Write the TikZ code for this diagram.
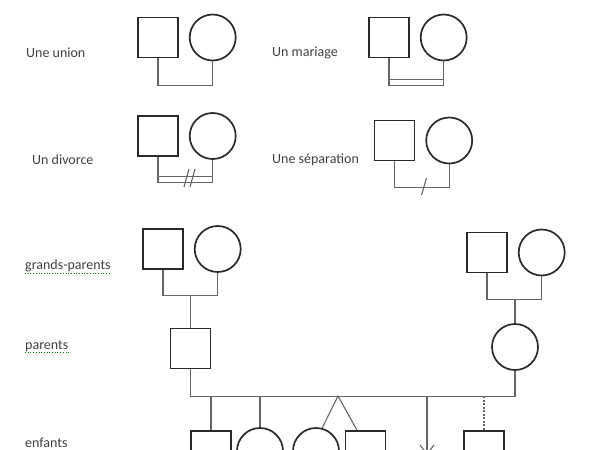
\documentclass[tikz,border=0pt]{standalone}
\usepackage{fontspec}
\setmainfont{Carlito}
\usetikzlibrary{positioning}

\definecolor{trait}{HTML}{2A2A2A}
\definecolor{lienc}{HTML}{666666}
\definecolor{texte}{HTML}{404040}

\begin{document}
\begin{tikzpicture}[
    x=1pt, y=-1pt,
    node distance=10pt,
    homme/.style={rectangle, draw=trait, line width=1.7pt,
                minimum size=40pt, inner sep=0pt},
    femme/.style={circle, draw=trait, line width=1.7pt,
                minimum size=46pt, inner sep=0pt},
    lien/.style={draw=lienc, line width=1.1pt},
    adopt/.style={lien, dash pattern=on 2pt off 1.5pt},
    etiquette/.style={anchor=west, inner sep=0pt, text=texte,
                font=\fontsize{14}{16}\selectfont},
    souligne/.style={draw=green!55!black, dotted, line width=0.7pt},
]
\useasboundingbox (0,0) rectangle (600,450);
\clip (0,0) rectangle (600,450);

% Légende
\node[etiquette] (lunion) at (26,53) {Une union};
\node[homme] (u1) at (158,37.5) {};
\node[femme, right=of u1] (u2) {};
\draw[lien] (u1.south) -- ++(0,27) -| (u2.south);

\node[etiquette] (lmariage) at (272,53) {Un mariage};
\node[homme] (m1) at (389,37.5) {};
\node[femme, right=of m1] (m2) {};
\draw[lien] (m1.south) -- ++(0,27) -| (m2.south);
\path (m1.south) ++(0,21) coordinate (mb);
\draw[lien] (mb) -- (mb -| m2.south);

\node[etiquette] (ldivorce) at (32,160) {Un divorce};
\node[homme] (d1) at (158,136) {};
\node[femme, right=of d1] (d2) {};
\draw[lien] (d1.south) -- ++(0,26) coordinate (db) -| (d2.south);
\path (d1.south) ++(0,20) coordinate (da);
\draw[lien] (da) -- (da -| d2.south);
\coordinate (dx) at (189,178);
\draw[lien] ([xshift=-5pt,yshift=-9pt]dx) -- ([xshift=0pt,yshift=9pt]dx);
\draw[lien] ([xshift=1pt,yshift=-9pt]dx) -- ([xshift=6pt,yshift=9pt]dx);

\node[etiquette] (lsep) at (272,160) {Une séparation};
\node[homme] (s1) at (394.5,140.5) {};
\node[femme, right=of s1] (s2) {};
\draw[lien] (s1.south) -- ++(0,26) coordinate (sb) -| (s2.south);
\coordinate (sx) at (424.5,187);
\draw[lien] ([xshift=-3pt,yshift=-8pt]sx) -- ([xshift=2pt,yshift=9pt]sx);

% Grands-parents
\node[etiquette] (lgp) at (25,266) {grands-parents};
\draw[souligne] ([yshift=-3.5pt]lgp.base west) -- ([yshift=-3.5pt]lgp.base east);
\node[homme] (g1) at (163,249) {};
\node[femme, right=of g1] (g2) {};
\draw[lien] (g1.south) -- ++(0,26) coordinate (gb) -| (g2.south);

\node[homme] (h1) at (487,252.5) {};
\node[femme, right=of h1] (h2) {};
\draw[lien] (h1.south) -- ++(0,26) coordinate (hb) -| (h2.south);

% Parents
\node[etiquette] (lpar) at (25,346) {parents};
\draw[souligne] ([yshift=-3.5pt]lpar.base west) -- ([yshift=-3.5pt]lpar.base east);
\node[homme] (p1) at (190.5,348.5) {};
\node[femme] (p2) at (515,347) {};
\draw[lien] (gb -| p1.north) -- (p1.north);
\draw[lien] (hb -| p2.north) -- (p2.north);
\draw[lien] (p1.south) -- ++(0,27) coordinate (fr) -| (p2.south);

% Enfants
\node[etiquette, anchor=base west] (lenf) at (25,447) {enfants};
\node[homme] (e1) at (211,451) {};
\node[femme] (e2) at (260,451) {};
\node[femme] (e3) at (316,451) {};
\node[homme] (e4) at (365.5,451) {};
\node[homme] (e5) at (484,451) {};
\draw[lien] (fr -| e1.north) -- (e1.north);
\draw[lien] (fr -| e2.north) -- (e2.north);
\coordinate (jum) at (338,396);
\draw[lien] (e3.75) -- (jum) -- ([xshift=-8.5pt]e4.north);
\coordinate (fc) at (427,454);
\draw[lien] (fr -| fc) -- (fc);
\draw[lien] ([xshift=-7pt,yshift=9pt]fc) -- ([xshift=7pt,yshift=-9pt]fc);
\draw[lien] ([xshift=7pt,yshift=9pt]fc) -- ([xshift=-7pt,yshift=-9pt]fc);
\draw[adopt] (fr -| e5.north) -- (e5.north);
\end{tikzpicture}
\end{document}
